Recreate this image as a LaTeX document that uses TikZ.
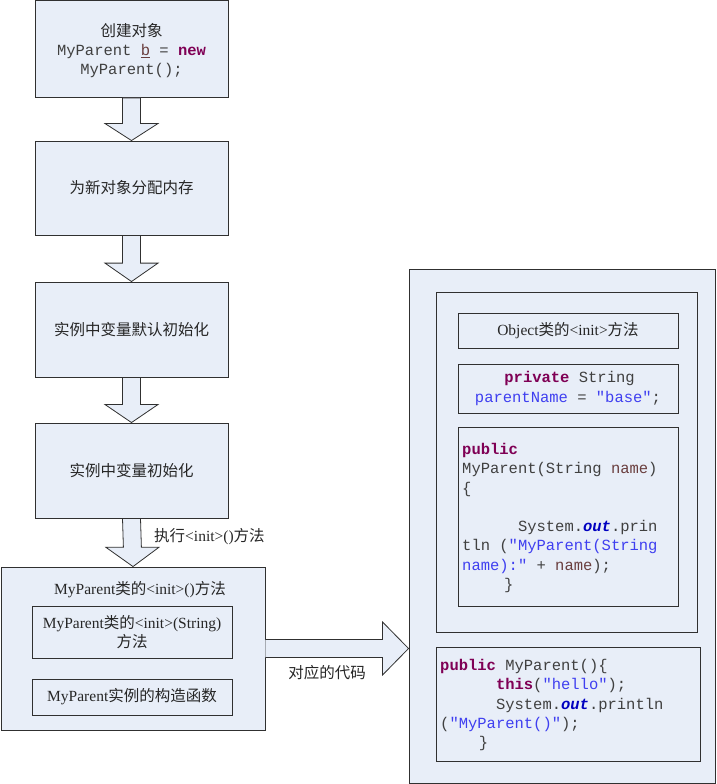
\documentclass[tikz,border=0pt]{standalone}
\usepackage{fontspec}
\usetikzlibrary{calc}
\setmainfont{Liberation Serif}
\setmonofont{Liberation Mono}
\newfontfamily\cjkf{Noto Sans CJK SC}
\newcommand\cj[1]{{\cjkf #1}}
\definecolor{boxfill}{HTML}{E8EEF8}
\definecolor{boxline}{HTML}{303030}
\definecolor{txt}{HTML}{262626}
\definecolor{codegray}{HTML}{404040}
\definecolor{kw}{HTML}{7F0055}
\definecolor{strc}{HTML}{3F3FF0}
\definecolor{varc}{HTML}{6A3E3E}
\definecolor{fieldc}{HTML}{0000C0}
\newcommand\kw[1]{{\color{kw}\bfseries #1}}
\newcommand\st[1]{{\color{strc}#1}}
\newcommand\vr[1]{{\color{varc}#1}}
\newcommand\fd[1]{{\color{fieldc}\bfseries\itshape #1}}
\newcommand\ind[1]{\hspace*{#1em}}
\tikzset{
  x=1pt, y=-1pt,
  box/.style={draw=boxline, fill=boxfill, line width=0.9pt, inner sep=0pt, align=center,
    font=\fontsize{15.5}{19.3}\selectfont, text=txt},
  codebox/.style={box, font=\ttfamily\fontsize{15.5}{19.3}\selectfont, text=codegray},
  bigarrow/.style={draw=boxline, fill=boxfill, line width=0.8pt, line join=miter},
  lbl/.style={font=\fontsize{15.5}{19.3}\selectfont, text=txt, inner sep=0pt}
}
\begin{document}
\begin{tikzpicture}
\useasboundingbox (0,0) rectangle (716,784);
% left column boxes
\node[box, minimum width=193pt, minimum height=97pt] (b1) at (131.5,49) {};
\node[lbl, align=center] (b1t) at (131.5,50.5)
  {\cj{创建对象}\\ {\ttfamily\color{codegray}MyParent {\color{varc}\underline{b}} = \kw{new}}\\ {\ttfamily\color{codegray}MyParent();}};
\node[box, minimum width=193pt, minimum height=94pt] (b2) at (131.5,188) {\cj{为新对象分配内存}};
\node[box, minimum width=193pt, minimum height=95pt] (b3) at (131.5,329.5) {\cj{实例中变量默认初始化}};
\node[box, minimum width=193pt, minimum height=95pt] (b4) at (131.5,470.5) {\cj{实例中变量初始化}};
\node[box, minimum width=264pt, minimum height=163pt] (b5) at (133,648.5) {};
\node[lbl, anchor=center] (b5t) at (140,590) {MyParent\cj{类的}<init>()\cj{方法}};
\node[box, minimum width=200pt, minimum height=52pt] (b5a) at (132,632)
  {MyParent\cj{类的}<init>(String)\\\cj{方法}};
\node[box, minimum width=200pt, minimum height=36pt] (b5b) at (132,697) {MyParent\cj{实例的构造函数}};

% down arrows
\foreach \a/\b in {b1/b2, b2/b3, b3/b4, b4/b5}{
  \draw[bigarrow] ($(\a.south)+(-9,0)$) -- ($(\a.south)+(9,0)$)
    -- ($(\a.south)!0.6!(\b.north)+(9,0)$) -- ($(\a.south)!0.6!(\b.north)+(26.5,0)$)
    -- (\b.north) -- ($(\a.south)!0.6!(\b.north)+(-26.5,0)$)
    -- ($(\a.south)!0.6!(\b.north)+(-9,0)$) -- cycle;
}
\node[lbl, anchor=west] (lab1) at (154,537) {\cj{执行}<init>()\cj{方法}};

% right side
\node[box, minimum width=306pt, minimum height=514pt] (r) at (562,526) {};
\node[box, minimum width=261pt, minimum height=340pt] (r1) at (566.5,462) {};
\node[box, minimum width=220pt, minimum height=35pt] (r1a) at (568,330.5) {Object\cj{类的}<init>\cj{方法}};
\node[codebox, minimum width=220pt, minimum height=49pt] (r1b) at (568,388.5)
  {\ind{0.2}\kw{private} String\\ {\color{strc}parentName} = \st{"base"};};
\node[codebox, minimum width=220pt, minimum height=179pt] (r1c) at (568,516.5) {};
\node[anchor=north west, inner sep=0pt, align=left, font=\ttfamily\fontsize{15.5}{19.3}\selectfont, text=codegray] (code1) at (462,443)
  {\kw{public}\\
   MyParent(String \vr{name})\\
   \{\\
   \mbox{}\\
   \ind{3.6}System.\fd{out}.prin\\
   tln (\st{"MyParent(String}\\
   \st{name):"} + \vr{name});\\
   \ind{2.7}\}};
\node[codebox, minimum width=264pt, minimum height=114pt] (r2) at (568,704) {};
\node[anchor=north west, inner sep=0pt, align=left, font=\ttfamily\fontsize{15.5}{19.3}\selectfont, text=codegray] (code2) at (440,659)
  {\kw{public} MyParent()\{\\
   \ind{3.6}\kw{this}(\st{"hello"});\\
   \ind{3.6}System.\fd{out}.println\\
   (\st{"MyParent()"});\\
   \ind{2.5}\}};

% right arrow
\coordinate (tip) at (r.west |- b5.east);
\draw[bigarrow] ($(b5.east)+(0,-9)$) -- ($(tip)+(-26,-9)$) -- ($(tip)+(-26,-26.5)$)
  -- (tip) -- ($(tip)+(-26,26.5)$) -- ($(tip)+(-26,9)$) -- ($(b5.east)+(0,9)$);
\node[lbl] (lab2) at (327,673) {\cj{对应的代码}};
\end{tikzpicture}
\end{document}
